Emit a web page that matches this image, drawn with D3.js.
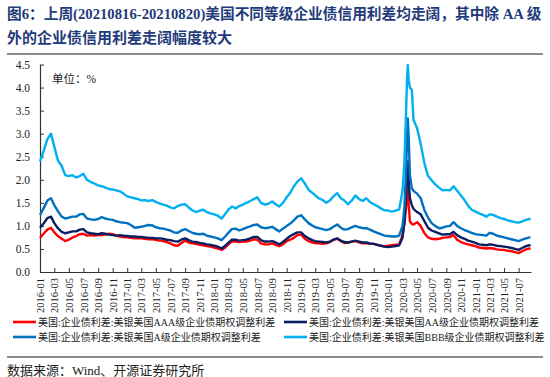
<!DOCTYPE html>
<html>
<head>
<meta charset="utf-8">
<script src="https://cdn.jsdelivr.net/npm/d3@7"></script>
<style>
  body { margin: 0; background: #fff; }
  svg { display: block; }
</style>
</head>
<body>
<div id="chart"></div>
<script>
// US corporate bond OAS by rating, 2016-01 .. 2021-08 (semi-monthly, denser around the 2020-03 spike)

const dates = [
  "2016-01-01","2016-01-16","2016-02-01","2016-02-16","2016-03-01","2016-03-16","2016-04-01","2016-04-16","2016-05-01","2016-05-16","2016-06-01","2016-06-16",
  "2016-07-01","2016-07-16","2016-08-01","2016-08-16","2016-09-01","2016-09-16","2016-10-01","2016-10-16","2016-11-01","2016-11-16","2016-12-01","2016-12-16",
  "2017-01-01","2017-01-16","2017-02-01","2017-02-16","2017-03-01","2017-03-16","2017-04-01","2017-04-16","2017-05-01","2017-05-16","2017-06-01","2017-06-16",
  "2017-07-01","2017-07-16","2017-08-01","2017-08-16","2017-09-01","2017-09-16","2017-10-01","2017-10-16","2017-11-01","2017-11-16","2017-12-01","2017-12-16",
  "2018-01-01","2018-01-16","2018-02-01","2018-02-16","2018-03-01","2018-03-16","2018-04-01","2018-04-16","2018-05-01","2018-05-16","2018-06-01","2018-06-16",
  "2018-07-01","2018-07-16","2018-08-01","2018-08-16","2018-09-01","2018-09-16","2018-10-01","2018-10-16","2018-11-01","2018-11-16","2018-12-01","2018-12-16",
  "2019-01-01","2019-01-16","2019-02-01","2019-02-16","2019-03-01","2019-03-16","2019-04-01","2019-04-16","2019-05-01","2019-05-16","2019-06-01","2019-06-16",
  "2019-07-01","2019-07-16","2019-08-01","2019-08-16","2019-09-01","2019-09-16","2019-10-01","2019-10-16","2019-11-01","2019-11-16","2019-12-01","2019-12-16",
  "2020-01-01","2020-01-16","2020-02-01","2020-02-16",
  "2020-03-01","2020-03-09","2020-03-16","2020-03-20","2020-03-23","2020-03-27","2020-04-01","2020-04-09","2020-04-16",
  "2020-05-01","2020-05-16","2020-06-01","2020-06-16","2020-07-01","2020-07-16","2020-08-01","2020-08-16",
  "2020-09-01","2020-09-16","2020-10-01","2020-10-16","2020-11-01","2020-11-16","2020-12-01","2020-12-16",
  "2021-01-01","2021-01-16","2021-02-01","2021-02-16","2021-03-01","2021-03-16","2021-04-01","2021-04-16",
  "2021-05-01","2021-05-16","2021-06-01","2021-06-16","2021-07-01","2021-07-16","2021-08-01","2021-08-16",
  "2021-08-20"
];

// AAA
const spreadAAA = [
  0.74,0.83,0.92,0.96,0.86,0.78,0.72,0.67,0.70,0.75,0.78,0.82,0.83,0.79,0.80,0.79,0.80,0.80,0.81,0.83,0.82,0.79,0.77,0.76,
  0.75,0.74,0.73,0.73,0.73,0.72,0.71,0.71,0.70,0.68,0.67,0.65,0.62,0.58,0.57,0.63,0.68,0.64,0.62,0.61,0.59,0.58,0.56,0.55,
  0.53,0.51,0.48,0.53,0.60,0.66,0.66,0.65,0.66,0.66,0.68,0.71,0.70,0.62,0.60,0.60,0.62,0.59,0.56,0.60,0.67,0.70,0.74,0.80,
  0.81,0.72,0.67,0.64,0.63,0.62,0.61,0.62,0.65,0.70,0.72,0.67,0.63,0.64,0.66,0.67,0.64,0.62,0.62,0.61,0.61,0.59,0.57,0.56,
  0.57,0.58,0.59,0.60,
  0.80,1.05,1.40,1.75,1.96,1.45,1.10,1.04,1.03,
  1.08,1.00,0.84,0.75,0.72,0.71,0.72,0.74,0.75,0.76,0.80,0.70,0.65,0.62,0.60,0.58,
  0.56,0.53,0.52,0.51,0.52,0.51,0.49,0.48,0.48,0.46,0.45,0.43,0.41,0.45,0.49,0.51,
  0.52
];

// AA
const spreadAA = [
  0.96,1.05,1.17,1.20,1.06,0.95,0.87,0.84,0.86,0.88,0.88,0.92,0.93,0.86,0.84,0.83,0.82,0.84,0.83,0.81,0.80,0.79,0.80,0.79,
  0.78,0.77,0.77,0.76,0.76,0.75,0.74,0.74,0.73,0.73,0.72,0.70,0.69,0.67,0.66,0.70,0.73,0.69,0.66,0.65,0.63,0.62,0.60,0.59,
  0.57,0.55,0.51,0.57,0.63,0.70,0.70,0.68,0.69,0.70,0.73,0.76,0.76,0.69,0.66,0.66,0.67,0.64,0.60,0.65,0.72,0.78,0.82,0.86,
  0.86,0.78,0.73,0.69,0.67,0.66,0.65,0.64,0.66,0.70,0.73,0.68,0.65,0.64,0.66,0.68,0.66,0.64,0.64,0.62,0.61,0.59,0.57,0.55,
  0.54,0.55,0.56,0.58,
  0.75,1.10,1.70,2.15,2.40,1.95,1.60,1.45,1.37,
  1.30,1.25,1.10,0.96,0.90,0.87,0.84,0.81,0.82,0.82,0.87,0.80,0.75,0.72,0.68,0.66,
  0.63,0.60,0.59,0.58,0.60,0.59,0.57,0.56,0.55,0.54,0.52,0.50,0.48,0.52,0.56,0.58,
  0.59
];

// A
const spreadA = [
  1.24,1.38,1.55,1.60,1.45,1.32,1.20,1.16,1.18,1.20,1.20,1.25,1.26,1.16,1.14,1.13,1.15,1.19,1.16,1.14,1.13,1.10,1.08,1.07,
  1.06,1.02,0.96,0.97,0.98,1.00,1.02,1.01,0.97,0.95,0.94,0.92,0.90,0.86,0.85,0.90,0.93,0.89,0.85,0.83,0.82,0.83,0.79,0.77,
  0.75,0.73,0.69,0.77,0.85,0.93,0.94,0.90,0.93,0.96,0.99,1.02,1.03,0.97,0.95,0.96,0.98,0.93,0.88,0.94,1.00,1.05,1.12,1.20,
  1.23,1.14,1.06,1.01,0.97,0.95,0.93,0.91,0.93,0.98,1.03,0.96,0.92,0.93,0.97,1.00,0.97,0.95,0.95,0.92,0.88,0.85,0.82,0.79,
  0.78,0.77,0.77,0.79,
  1.00,1.40,2.20,2.90,3.33,2.90,2.10,1.82,1.76,
  1.70,1.60,1.34,1.18,1.06,1.00,0.95,0.96,0.99,1.00,1.08,1.00,0.95,0.91,0.88,0.85,
  0.82,0.81,0.80,0.79,0.85,0.83,0.79,0.77,0.75,0.73,0.71,0.69,0.67,0.70,0.73,0.75,
  0.75
];

// BBB
const spreadBBB = [
  2.40,2.62,2.88,3.00,2.72,2.42,2.30,2.10,2.08,2.10,2.05,2.08,2.13,2.00,1.95,1.92,1.88,1.86,1.83,1.80,1.79,1.77,1.75,1.70,
  1.64,1.62,1.60,1.58,1.55,1.56,1.54,1.56,1.52,1.49,1.46,1.44,1.40,1.38,1.43,1.46,1.47,1.40,1.34,1.30,1.33,1.35,1.30,1.27,
  1.25,1.22,1.16,1.26,1.35,1.42,1.38,1.43,1.46,1.50,1.54,1.58,1.62,1.50,1.46,1.48,1.53,1.47,1.42,1.50,1.62,1.72,1.86,1.96,
  2.03,1.92,1.78,1.72,1.66,1.60,1.56,1.50,1.55,1.64,1.71,1.60,1.55,1.47,1.55,1.66,1.58,1.54,1.60,1.52,1.47,1.43,1.38,1.34,
  1.33,1.31,1.33,1.36,
  1.75,2.40,3.50,4.20,4.49,4.15,4.00,3.95,3.30,
  3.12,2.78,2.35,2.08,1.99,1.90,1.83,1.77,1.78,1.77,1.86,1.76,1.66,1.56,1.44,1.35,
  1.31,1.27,1.24,1.20,1.25,1.24,1.20,1.17,1.15,1.12,1.10,1.08,1.07,1.10,1.13,1.15,
  1.16
];

const seriesNames = [
  "美国:企业债利差:美银美国AAA级企业债期权调整利差",
  "美国:企业债利差:美银美国AA级企业债期权调整利差",
  "美国:企业债利差:美银美国A级企业债期权调整利差",
  "美国:企业债利差:美银美国BBB级企业债期权调整利差"
];
const seriesColors = ["#ff0000", "#0a1e62", "#0070c0", "#00b0f0"];
const yTicks = [0, 0.5, 1.0, 1.5, 2.0, 2.5, 3.0, 3.5, 4.0, 4.5];

const titleLines = [
  "图6：上周(20210816-20210820)美国不同等级企业债信用利差均走阔，其中除 AA 级",
  "外的企业债信用利差走阔幅度较大"
];
const unitText = "单位：%";
const sourceText = "数据来源：Wind、开源证券研究所";

const W = 550, H = 377;
const serif = "'Liberation Serif','Times New Roman','Noto Sans CJK SC',serif";

const svg = d3.select("#chart").append("svg")
    .attr("width", W)
    .attr("height", H);

// shrink the font of a text until it fits a width
function fitText(sel, maxW, size) {
    const w = sel.node().getComputedTextLength();
    if (w > maxW) {
        sel.style("font-size", (size * maxW / w).toFixed(2) + "px");
    }
}

// title
const titleColor = "#1f3b7a";
titleLines.forEach((t, i) => {
    const txt = svg.append("text")
        .attr("x", 7)
        .attr("y", 19 + i * 24)
        .attr("fill", titleColor)
        .style("font-family", serif)
        .style("font-size", "15px")
        .style("font-weight", "bold")
        .text(t);
    fitText(txt, 535, 15);
});

svg.append("line")
    .attr("x1", 7).attr("x2", 543)
    .attr("y1", 54).attr("y2", 54)
    .attr("stroke", "#8c8c8c")
    .attr("stroke-width", 2);

// scales
const parse = d3.timeParse("%Y-%m-%d");
const dateObjs = dates.map(parse);

const x = d3.scaleTime()
    .domain([parse("2016-01-01"), parse("2021-08-22")])
    .range([40, 531]);

const y = d3.scaleLinear()
    .domain([0, 4.5])
    .range([272, 64.5]);

// axes
const yAxis = d3.axisLeft(y)
    .tickValues(yTicks)
    .tickFormat(d3.format(".1f"))
    .tickSize(-4)
    .tickSizeOuter(0)
    .tickPadding(10);

const gy = svg.append("g")
    .attr("transform", "translate(40,0)")
    .call(yAxis);
gy.selectAll("text")
    .style("font-family", serif)
    .style("font-size", "11.5px")
    .attr("fill", "#222");

const xTicks = d3.timeMonth.every(2).range(parse("2016-01-01"), parse("2021-08-01"));
const xAxis = d3.axisBottom(x)
    .tickValues(xTicks)
    .tickFormat(d3.timeFormat("%Y-%m"))
    .tickSize(-4)
    .tickSizeOuter(0);

const gx = svg.append("g")
    .attr("transform", "translate(0,272)")
    .call(xAxis);
gx.selectAll("text")
    .attr("transform", "rotate(-90)")
    .attr("x", -6)
    .attr("y", 0)
    .attr("dy", "0.35em")
    .style("text-anchor", "end")
    .style("font-family", serif)
    .style("font-size", "10.5px")
    .attr("fill", "#222");

[gx, gy].forEach(g => {
    g.select(".domain").attr("stroke", "#333").attr("stroke-width", 1.2);
    g.selectAll(".tick line").attr("stroke", "#333");
});

// unit label
svg.append("text")
    .attr("x", 52).attr("y", 83)
    .style("font-family", serif)
    .style("font-size", "11.5px")
    .attr("fill", "#222")
    .text(unitText);

// lines
const allSeries = [spreadAAA, spreadAA, spreadA, spreadBBB];
const line = d3.line()
    .x((d, i) => x(dateObjs[i]))
    .y(d => y(d));

allSeries.forEach((s, i) => {
    svg.append("path")
        .attr("d", line(s))
        .attr("fill", "none")
        .attr("stroke", seriesColors[i])
        .attr("stroke-width", 2.4)
        .attr("stroke-linejoin", "round");
});

// legend
const legendPos = [[13, 322], [284, 322], [13, 337], [284, 337]];
seriesNames.forEach((name, i) => {
    const [lx, ly] = legendPos[i];
    svg.append("line")
        .attr("x1", lx).attr("x2", lx + 23)
        .attr("y1", ly).attr("y2", ly)
        .attr("stroke", seriesColors[i])
        .attr("stroke-width", 2.6);
    const t = svg.append("text")
        .attr("x", lx + 25).attr("y", ly + 4)
        .style("font-family", serif)
        .style("font-size", "10px")
        .attr("fill", "#222")
        .text(name);
    fitText(t, i % 2 === 0 ? 238 : 236, 10);
});

// source
svg.append("line")
    .attr("x1", 7).attr("x2", 543)
    .attr("y1", 357).attr("y2", 357)
    .attr("stroke", "#8c8c8c")
    .attr("stroke-width", 2);

svg.append("text")
    .attr("x", 7).attr("y", 375)
    .style("font-family", serif)
    .style("font-size", "13px")
    .attr("fill", "#222")
    .text(sourceText);
</script>
</body>
</html>
